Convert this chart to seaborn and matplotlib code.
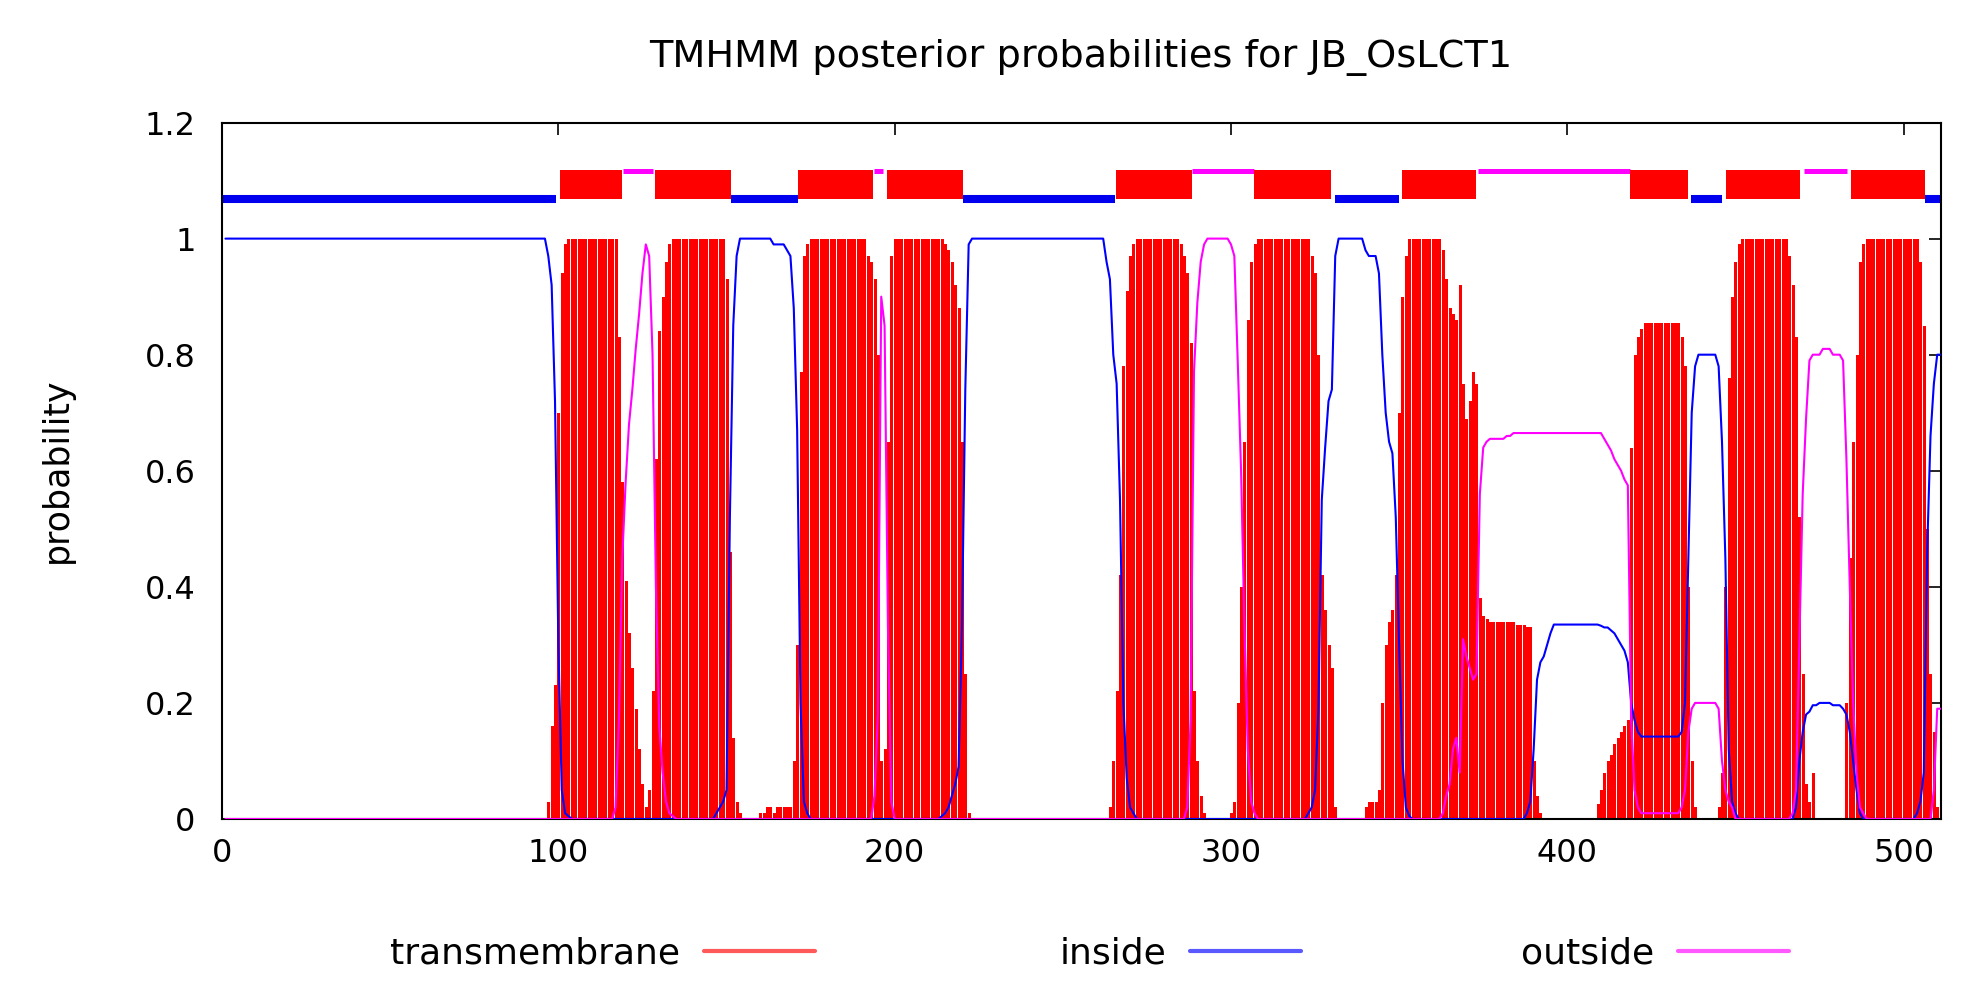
import matplotlib
matplotlib.use("Agg")
import matplotlib.pyplot as plt
from matplotlib.lines import Line2D
import numpy as np
import pandas as pd
import seaborn as sns

# ---------------- data ----------------
residues = list(range(1, 512))

tm_prob = ([0.0] * 96
           + [0.03, 0.16, 0.23, 0.70, 0.94, 0.99]
           + [1.0] * 14
           + [1.0, 0.83, 0.58, 0.41, 0.32, 0.26, 0.19, 0.12, 0.06, 0.02, 0.05, 0.22, 0.62, 0.84, 0.90, 0.96, 0.99]
           + [1.0] * 16
           + [0.93, 0.46, 0.14, 0.03, 0.01]
           + [0.0, 0.0, 0.0, 0.0, 0.0, 0.01, 0.01, 0.02, 0.02, 0.01, 0.02, 0.02, 0.02, 0.02]
           + [0.02, 0.10, 0.30, 0.77, 0.97, 0.99]
           + [1.0] * 17
           + [0.97, 0.96, 0.93, 0.80, 0.10, 0.12, 0.65, 0.97]
           + [1.0] * 15
           + [0.99, 0.98, 0.96, 0.92, 0.88, 0.65, 0.25, 0.01, 0.0]
           + [0.0] * 40
           + [0.02, 0.10, 0.22, 0.42, 0.78, 0.91, 0.97, 0.99]
           + [1.0] * 13
           + [0.99, 0.97, 0.94, 0.82, 0.22, 0.10, 0.04, 0.01]
           + [0.0] * 7
           + [0.01, 0.03, 0.20, 0.40, 0.65, 0.86, 0.96, 0.99, 1.0]
           + [1.0] * 15
           + [0.97, 0.94, 0.80, 0.42, 0.36, 0.30, 0.26, 0.02]
           + [0.0] * 8
           + [0.02, 0.03, 0.03, 0.03, 0.05, 0.20, 0.30, 0.34, 0.36, 0.42, 0.70, 0.90, 0.97]
           + [1.0] * 10
           + [0.98, 0.93, 0.88, 0.87, 0.86, 0.92, 0.75, 0.69, 0.72, 0.77, 0.75, 0.38]
           + [0.35, 0.345, 0.34, 0.34, 0.34, 0.34, 0.34, 0.34, 0.34, 0.34, 0.335, 0.335, 0.335, 0.33]
           + [0.33, 0.10, 0.04, 0.01, 0.0]
           + [0.0] * 15
           + [0.025, 0.05, 0.08, 0.10, 0.11, 0.13, 0.14, 0.15, 0.16, 0.17]
           + [0.64, 0.80, 0.83, 0.845]
           + [0.855] * 11
           + [0.83, 0.78, 0.40, 0.10, 0.02]
           + [0.0] * 6
           + [0.02, 0.08, 0.40, 0.76, 0.90, 0.96, 0.99]
           + [1.0] * 14
           + [0.97, 0.92, 0.83, 0.52, 0.25, 0.06, 0.03, 0.08]
           + [0.0] * 9
           + [0.20, 0.45, 0.65, 0.80, 0.96, 0.99]
           + [1.0] * 16
           + [0.96, 0.85, 0.50, 0.25, 0.15, 0.02, 0.01])

inside_prob = ([1.0] * 96
               + [0.97, 0.92, 0.72, 0.30, 0.05, 0.01, 0.005]
               + [0.0] * 43
               + [0.01, 0.02, 0.03, 0.05, 0.52, 0.85, 0.97]
               + [1.0] * 10
               + [0.99, 0.99, 0.99, 0.99, 0.98, 0.97, 0.88, 0.67, 0.20, 0.03, 0.01]
               + [0.0] * 39
               + [0.005, 0.01, 0.02, 0.04, 0.06, 0.09, 0.33, 0.74, 0.99]
               + [1.0] * 40
               + [0.96, 0.93, 0.80, 0.75, 0.55, 0.20, 0.07, 0.02, 0.01]
               + [0.0] * 51
               + [0.01, 0.02, 0.05, 0.19, 0.55, 0.64, 0.72, 0.74, 0.97]
               + [1.0] * 8
               + [0.98, 0.97, 0.97, 0.97, 0.94, 0.80, 0.70, 0.65, 0.63, 0.52, 0.30, 0.10, 0.02, 0.005]
               + [0.0] * 34
               + [0.01, 0.03, 0.12, 0.24, 0.27, 0.28, 0.30, 0.32]
               + [0.335] * 14
               + [0.333, 0.33, 0.33, 0.325, 0.32, 0.31, 0.30, 0.29, 0.27, 0.20, 0.17, 0.15]
               + [0.142] * 12
               + [0.15, 0.20, 0.45, 0.70, 0.78, 0.80, 0.80, 0.80, 0.80, 0.80, 0.80, 0.78, 0.65, 0.45, 0.12, 0.03, 0.01]
               + [0.0] * 17
               + [0.02, 0.10, 0.15, 0.18, 0.185, 0.196, 0.196, 0.20, 0.20, 0.20, 0.20, 0.196, 0.196, 0.196, 0.19,
                  0.18, 0.15, 0.10, 0.05, 0.01]
               + [0.0] * 16
               + [0.01, 0.03, 0.08, 0.46, 0.66, 0.75, 0.80, 0.80])

outside_prob = ([0.0] * 116
                + [0.02, 0.17, 0.45, 0.58, 0.68, 0.74, 0.81, 0.87, 0.94, 0.99, 0.97, 0.80, 0.40, 0.16, 0.08, 0.03,
                   0.01, 0.005]
                + [0.0] * 59
                + [0.04, 0.18, 0.90, 0.85, 0.33, 0.03]
                + [0.0] * 87
                + [0.02, 0.17, 0.77, 0.89, 0.96, 0.99] + [1.0] * 7
                + [0.99, 0.97, 0.79, 0.60, 0.33, 0.12, 0.03, 0.01]
                + [0.0] * 55
                + [0.01, 0.04, 0.06, 0.12, 0.14, 0.08, 0.31, 0.28, 0.26, 0.24, 0.25, 0.56, 0.64, 0.65]
                + [0.655] * 5 + [0.66] * 2 + [0.665] * 5
                + [0.665] * 22
                + [0.655, 0.645, 0.635, 0.62, 0.61, 0.60, 0.585, 0.575, 0.17, 0.05, 0.02]
                + [0.01] * 12
                + [0.02, 0.05, 0.15, 0.19, 0.20, 0.20, 0.20, 0.20, 0.20, 0.20, 0.20, 0.19, 0.10, 0.05, 0.03, 0.02]
                + [0.0] * 17
                + [0.01, 0.05, 0.30, 0.56, 0.69, 0.79, 0.80, 0.80, 0.80, 0.81, 0.81, 0.81, 0.80, 0.80, 0.80, 0.79,
                   0.62, 0.40, 0.20, 0.08, 0.02, 0.01]
                + [0.0] * 20
                + [0.05, 0.19, 0.19])

# predicted topology (start, end) drawn at the top of the plot
inside_segments = [(0, 99.3), (151.2, 171.4), (220.3, 265.4), (330.9, 349.9), (436.7, 445.9), (506.5, 511)]
tm_segments = [(100.4, 118.9), (128.6, 151.2), (171.4, 193.6), (197.7, 220.3), (265.7, 288.3),
               (306.9, 329.6), (350.9, 372.9), (418.6, 435.9), (447.2, 469.3), (484.4, 506.5)]
outside_segments = [(119.2, 128.2), (193.9, 196.6), (288.3, 306.9), (373.5, 418.6), (470.5, 483.2)]

x_ticks = [0, 100, 200, 300, 400, 500]
y_ticks = [0, 0.2, 0.4, 0.6, 0.8, 1.0, 1.2]
y_tick_labels = ["0", "0.2", "0.4", "0.6", "0.8", "1", "1.2"]
title = "TMHMM posterior probabilities for JB_OsLCT1"
series_names = ["transmembrane", "inside", "outside"]

# ---------------- plotting ----------------
sns.set_theme(style="white")
plt.rcParams["font.family"] = ["DejaVu Sans"]
plt.rcParams["text.color"] = "black"
plt.rcParams["axes.labelcolor"] = "black"
plt.rcParams["xtick.color"] = "black"
plt.rcParams["ytick.color"] = "black"

RED, BLUE, MAGENTA = "#ff0000", "#0000ff", "#ff00ff"

fig = plt.figure(figsize=(19.81, 10.06), dpi=100)
ax = fig.add_axes([0.1121, 0.1859, 0.8675, 0.6923])

# transmembrane probability as impulses
ax.vlines(residues, 0, tm_prob, colors=RED, linewidth=2.16, antialiased=False, zorder=1)

df = pd.DataFrame({"residue": residues, "inside": inside_prob, "outside": outside_prob})
sns.lineplot(data=df, x="residue", y="inside", color=BLUE, linewidth=1.5, ax=ax,
             estimator=None, sort=False, zorder=3)
sns.lineplot(data=df, x="residue", y="outside", color=MAGENTA, linewidth=1.5, ax=ax,
             estimator=None, sort=False, zorder=3)

# topology bar on top
for s, e in inside_segments:
    ax.hlines(1.068, s, e, colors="#0000ee", linewidth=5.8, zorder=2, capstyle="butt")
for s, e in outside_segments:
    ax.hlines(1.116, s, e, colors=MAGENTA, linewidth=3.6, zorder=2, capstyle="butt")
for s, e in tm_segments:
    ax.barh(1.093, e - s, left=s, height=0.05, color=RED, linewidth=0, zorder=2)

ax.set_xlim(0, 511)
ax.set_ylim(0, 1.2)
ax.set_xticks(x_ticks)
ax.set_xticklabels([str(v) for v in x_ticks])
ax.set_yticks(y_ticks)
ax.set_yticklabels(y_tick_labels)
ax.set_xlabel("")
ax.set_ylabel("")
ax.tick_params(axis="both", direction="in", length=8.6, width=1.2, colors="black",
               top=True, right=True, labelsize=23)
ax.tick_params(axis="x", pad=14)
ax.tick_params(axis="y", pad=19)
for sp in ax.spines.values():
    sp.set_visible(True)
    sp.set_color("black")
    sp.set_linewidth(1.5)

fig.text(0.5457, 0.9433, title, ha="center", va="center", fontsize=27.5, color="black")
fig.text(0.0288, 0.5328, "probability", rotation=90, ha="center", va="center", fontsize=25, color="black")

# legend entries: text followed by line sample (gnuplot style)
legend_colors = [RED, BLUE, MAGENTA]
legend_right = [815 / 1981, 1301 / 1981, 1789 / 1981]
for name, col, xr in zip(series_names, legend_colors, legend_right):
    fig.legend(handles=[Line2D([], [], color=col, linewidth=3, alpha=0.65)], labels=[name],
               loc="center right", bbox_to_anchor=(xr, 1 - 954 / 1006), frameon=False,
               fontsize=26, markerfirst=False, handlelength=3.07, handletextpad=0.66,
               borderpad=0, borderaxespad=0, labelcolor="black")

fig.savefig("out.png", dpi=100)
